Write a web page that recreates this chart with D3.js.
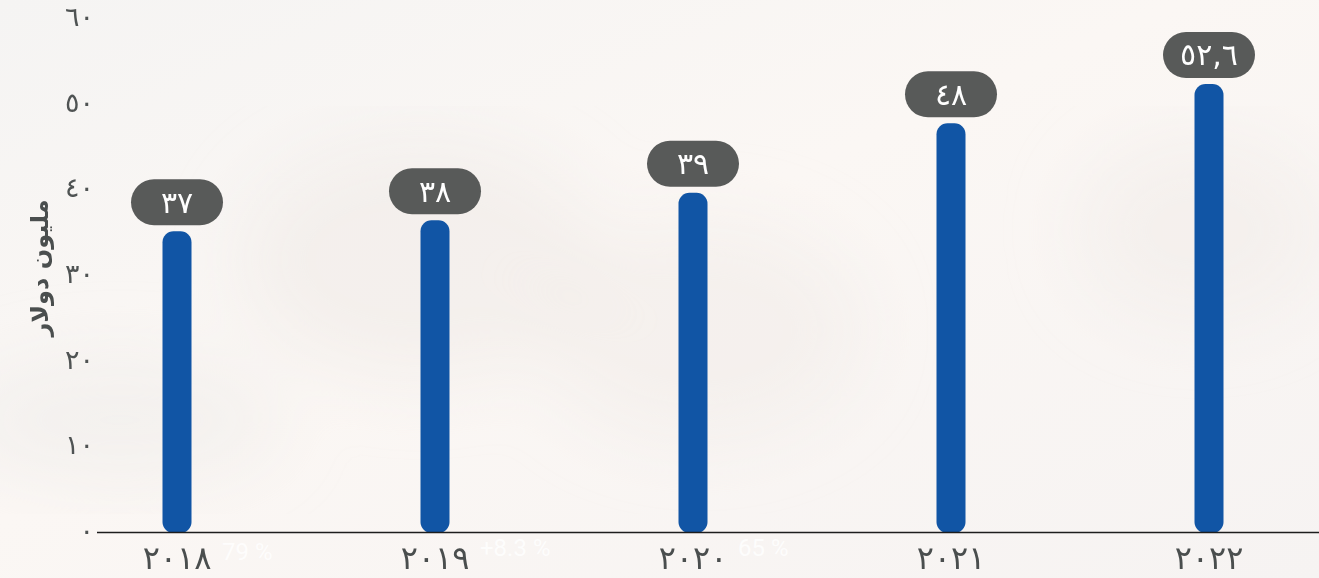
<!DOCTYPE html>
<meta charset="utf-8">
<script src="https://d3js.org/d3.v7.min.js"></script>
<style>
  body { margin: 0; overflow: hidden; }
</style>
<div id="chart_area"></div>
<script>
  // chart data
  let years = ["٢٠١٨", "٢٠١٩", "٢٠٢٠", "٢٠٢١", "٢٠٢٢"];
  let barValues = [35.1, 36.4, 39.6, 47.7, 52.3];   // bar heights as drawn
  let valueLabels = ["٣٧", "٣٨", "٣٩", "٤٨", "٥٢,٦"];
  let yTicks = [0, 10, 20, 30, 40, 50, 60];
  let yTitle = "مليون دولار";

  let width = 1319, height = 578;
  let arabicDigits = "٠١٢٣٤٥٦٧٨٩";
  let toArabic = n => String(n).replace(/[0-9]/g, d => arabicDigits[d]);

  let svg = d3.select("#chart_area")
    .append("svg")
      .attr("width", width)
      .attr("height", height)
      .style("font-family", "'DejaVu Sans', sans-serif");

  // faded background
  let defs = svg.append("defs");
  let grad = defs.append("linearGradient").attr("id", "bg").attr("x1", 0).attr("y1", 0).attr("x2", 1).attr("y2", 1);
  grad.append("stop").attr("offset", "0%").attr("stop-color", "#f5f4f3");
  grad.append("stop").attr("offset", "45%").attr("stop-color", "#fbf7f4");
  grad.append("stop").attr("offset", "100%").attr("stop-color", "#f6f3f2");
  defs.append("filter").attr("id", "blur").append("feGaussianBlur").attr("stdDeviation", 35);

  svg.append("rect").attr("width", width).attr("height", height).attr("fill", "url(#bg)");
  let blobs = svg.append("g").attr("filter", "url(#blur)");
  blobs.append("ellipse").attr("cx", 420).attr("cy", 260).attr("rx", 180).attr("ry", 120).attr("fill", "#f0ebe8").attr("opacity", 0.6);
  blobs.append("ellipse").attr("cx", 700).attr("cy", 330).attr("rx", 160).attr("ry", 110).attr("fill", "#f1ece9").attr("opacity", 0.6);
  blobs.append("ellipse").attr("cx", 1200).attr("cy", 230).attr("rx", 120).attr("ry", 90).attr("fill", "#f1edea").attr("opacity", 0.6);
  blobs.append("ellipse").attr("cx", 120).attr("cy", 420).attr("rx", 160).attr("ry", 60).attr("fill", "#eeebea").attr("opacity", 0.5);

  // ghost text of background photo
  let ghost = svg.append("g").attr("fill", "#ffffff").attr("opacity", 0.8)
    .style("font-family", "Roboto, sans-serif").style("font-size", "24px");
  ghost.append("text").attr("x", 222).attr("y", 560).text("79 %");
  ghost.append("text").attr("x", 480).attr("y", 556).text("+8.3 %");
  ghost.append("text").attr("x", 738).attr("y", 556).text("65 %");

  // scales
  let x = d3.scalePoint().domain(years).range([177, 1209]);
  let y = d3.scaleLinear().domain([0, 60]).range([532, 18]);

  // y axis labels
  svg.append("g")
    .selectAll("text")
    .data(yTicks)
    .join("text")
      .attr("x", 94)
      .attr("y", d => y(d))
      .attr("dy", "0.3em")
      .attr("text-anchor", "end")
      .attr("fill", "#4f5353")
      .style("font-size", "27px")
      .style("letter-spacing", "4px")
      .text(d => toArabic(d));

  svg.append("text")
    .attr("transform", "translate(40," + 268 + ") rotate(-90)")
    .attr("text-anchor", "middle")
    .attr("dy", "0.35em")
    .attr("fill", "#4a4e4e")
    .style("font-size", "24px")
    .style("font-weight", "bold")
    .text(yTitle);

  // bars
  let barW = 29;
  svg.append("g")
    .selectAll("rect")
    .data(barValues)
    .join("rect")
      .attr("x", (d, i) => x(years[i]) - barW / 2)
      .attr("y", d => y(d))
      .attr("width", barW)
      .attr("height", d => y(0) - y(d) + 1)
      .attr("rx", 11)
      .attr("fill", "#1155a5");

  // baseline
  svg.append("line")
    .attr("x1", 97).attr("x2", width)
    .attr("y1", y(0) + 0.5).attr("y2", y(0) + 0.5)
    .attr("stroke", "#1d1d1d")
    .attr("stroke-width", 1.5);

  // x labels
  svg.append("g")
    .selectAll("text")
    .data(years)
    .join("text")
      .attr("x", d => x(d))
      .attr("y", 558)
      .attr("dy", "0.35em")
      .attr("text-anchor", "middle")
      .attr("fill", "#4a4e4e")
      .style("font-size", "32px")
      .style("letter-spacing", "3px")
      .text(d => d);

  // value pills
  let pillW = 92, pillH = 46;
  let pills = svg.append("g")
    .selectAll("g")
    .data(barValues)
    .join("g")
      .attr("transform", (d, i) => "translate(" + x(years[i]) + "," + (y(d) - 29) + ")");

  pills.append("rect")
    .attr("x", -pillW / 2)
    .attr("y", -pillH / 2)
    .attr("width", pillW)
    .attr("height", pillH)
    .attr("rx", pillH / 2)
    .attr("fill", "#585a59");

  pills.append("text")
    .attr("text-anchor", "middle")
    .attr("dy", "0.35em")
    .attr("fill", "#ffffff")
    .style("font-size", "30px")
    .style("letter-spacing", "3px")
    .text((d, i) => valueLabels[i]);
</script>
